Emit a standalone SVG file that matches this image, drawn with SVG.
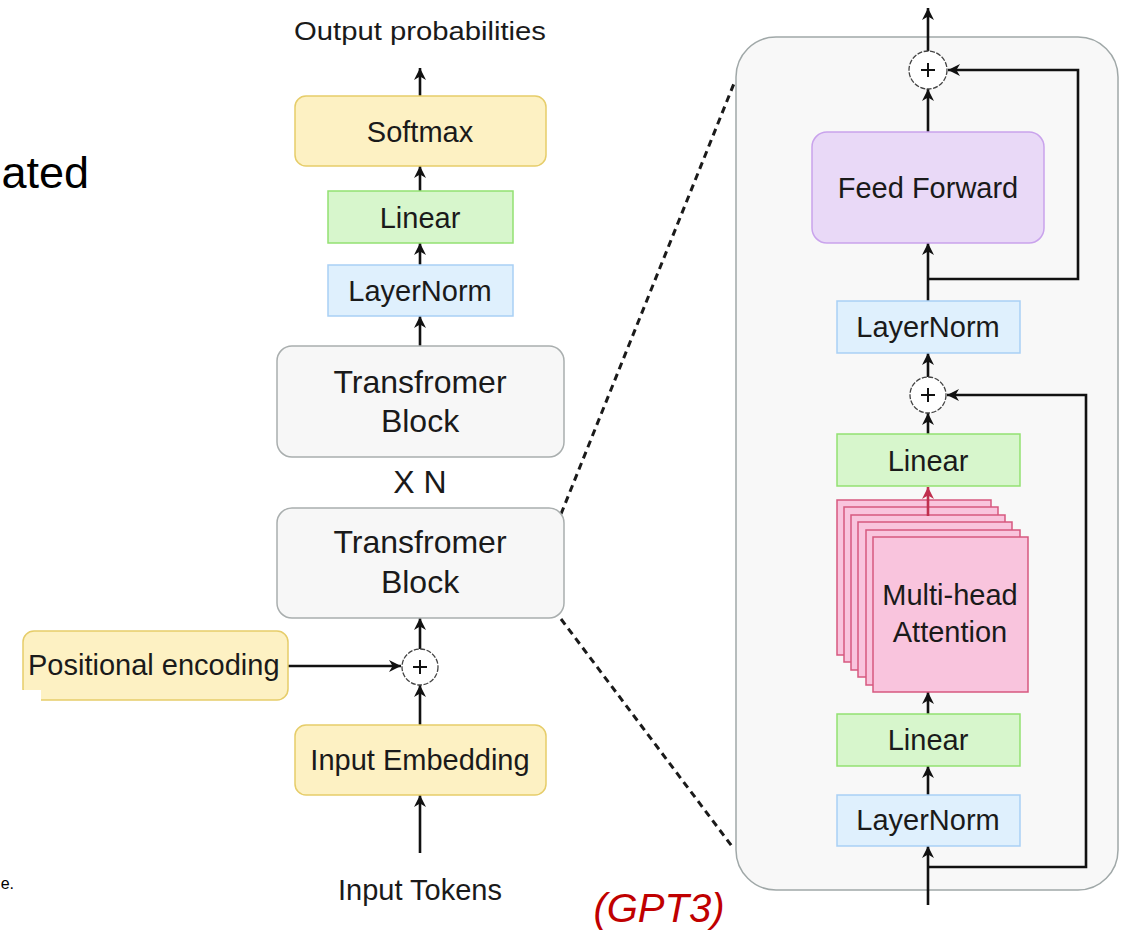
<svg xmlns="http://www.w3.org/2000/svg" width="1122" height="933" viewBox="0 0 1122 933">
<defs>
<style>
text{font-family:"Liberation Sans",Arial,sans-serif;fill:#1a1a1a}
.lbl{font-size:29px;text-anchor:middle}
.big{font-size:32px;text-anchor:middle}
.conn{stroke:#111;stroke-width:2.6;fill:none}
.dash{stroke:#1a1a1a;stroke-width:3;fill:none;stroke-dasharray:7 5}
.yellow{fill:#fdf1c3;stroke:#e6cd6a;stroke-width:1.5}
.green{fill:#d7f6cc;stroke:#93e172;stroke-width:1.5}
.blue{fill:#dff0fd;stroke:#a9d0f5;stroke-width:1.5}
.purple{fill:#e9d9f7;stroke:#c9a3ec;stroke-width:1.5}
.gray{fill:#f7f7f7;stroke:#a9aeae;stroke-width:1.5}
.pink{fill:#f9c4dd;stroke:#d6587f;stroke-width:1.5}
.plus{fill:#fff;stroke:#444;stroke-width:1.3;stroke-dasharray:5 1.5}
.pl{stroke:#111;stroke-width:2;fill:none}
</style>
<marker id="arr" viewBox="0 0 10 10" refX="10" refY="5" markerWidth="12" markerHeight="12" markerUnits="userSpaceOnUse" orient="auto">
<path d="M0,0 L10,5 L0,10 L3,5 z" fill="#111"/>
</marker>
<marker id="arrRed" viewBox="0 0 10 10" refX="10" refY="5" markerWidth="12" markerHeight="12" markerUnits="userSpaceOnUse" orient="auto">
<path d="M0,0 L10,5 L0,10 L3,5 z" fill="#c0304f"/>
</marker>
</defs>
<rect width="1122" height="933" fill="#fff"/>

<!-- cropped context texts -->
<text x="89" y="188" style="font-size:45px;text-anchor:end;fill:#000">ated</text>
<text x="14" y="889" style="font-size:16px;text-anchor:end;fill:#000">e.</text>

<!-- right panel background -->
<g id="detail-panel">
<rect x="736" y="37" width="382" height="853" rx="40" ry="40" fill="#f8f8f8" stroke="#a0a8a8" stroke-width="1.5"/>
</g>

<g id="connectors">
<!-- zoom dashed lines -->
<line class="dash" x1="561" y1="514" x2="735" y2="81"/>
<line class="dash" x1="561" y1="619" x2="734" y2="849"/>
<!-- left column -->
<line class="conn" x1="420" y1="96" x2="420" y2="68" marker-end="url(#arr)"/>
<line class="conn" x1="420" y1="191" x2="420" y2="166" marker-end="url(#arr)"/>
<line class="conn" x1="420" y1="265" x2="420" y2="243" marker-end="url(#arr)"/>
<line class="conn" x1="420" y1="346" x2="420" y2="316" marker-end="url(#arr)"/>
<line class="conn" x1="420" y1="649" x2="420" y2="618" marker-end="url(#arr)"/>
<line class="conn" x1="420" y1="725" x2="420" y2="685" marker-end="url(#arr)"/>
<line class="conn" x1="420" y1="853" x2="420" y2="795" marker-end="url(#arr)"/>
<line class="conn" x1="288" y1="666" x2="401" y2="666" marker-end="url(#arr)"/>
<!-- right column -->
<line class="conn" x1="928" y1="51" x2="928" y2="8" marker-end="url(#arr)"/>
<path class="conn" d="M928,279 H1078 V70 H948" marker-end="url(#arr)"/>
<line class="conn" x1="928" y1="132" x2="928" y2="89" marker-end="url(#arr)"/>
<line class="conn" x1="928" y1="301" x2="928" y2="243" marker-end="url(#arr)"/>
<line class="conn" x1="928" y1="377" x2="928" y2="353" marker-end="url(#arr)"/>
<line class="conn" x1="928" y1="434" x2="928" y2="413" marker-end="url(#arr)"/>
<line class="conn" x1="928" y1="714" x2="928" y2="692" marker-end="url(#arr)"/>
<line class="conn" x1="928" y1="795" x2="928" y2="766" marker-end="url(#arr)"/>
<line class="conn" x1="928" y1="905" x2="928" y2="846" marker-end="url(#arr)"/>
<path class="conn" d="M928,867 H1086 V395 H947" marker-end="url(#arr)"/>
</g>

<!-- left column nodes -->
<g id="output-probabilities"><text x="420" y="40" style="font-size:26px;text-anchor:middle" textLength="252" lengthAdjust="spacingAndGlyphs">Output probabilities</text></g>
<g id="softmax"><rect class="yellow" x="295" y="96" width="251" height="70" rx="11"/><text class="lbl" x="420" y="142">Softmax</text></g>
<g id="linear-out"><rect class="green" x="328" y="191" width="185" height="52"/><text class="lbl" x="420" y="228">Linear</text></g>
<g id="layernorm-out"><rect class="blue" x="328" y="265" width="185" height="51"/><text class="lbl" x="420" y="301">LayerNorm</text></g>
<g id="transformer-block-n"><rect class="gray" x="277" y="346" width="287" height="111" rx="15"/><text class="big" x="420" y="393">Transfromer</text><text class="big" x="420" y="432">Block</text></g>
<g id="xn"><text class="big" x="420" y="493">X N</text></g>
<g id="transformer-block-1"><rect class="gray" x="277" y="508" width="287" height="110" rx="15"/><text class="big" x="420" y="553">Transfromer</text><text class="big" x="420" y="593">Block</text></g>
<g id="add-pos"><circle class="plus" cx="420" cy="667" r="18"/><path class="pl" d="M413,667 H427 M420,660 V674"/></g>
<g id="positional-encoding"><rect class="yellow" x="23" y="631" width="265" height="69" rx="11"/><rect x="0" y="690" width="41" height="14" fill="#fff"/><text x="28" y="675" style="font-size:29px">Positional encoding</text></g>
<g id="input-embedding"><rect class="yellow" x="295" y="725" width="251" height="70" rx="11"/><text class="lbl" x="420" y="770">Input Embedding</text></g>
<g id="input-tokens"><text class="lbl" x="420" y="900">Input Tokens</text></g>

<!-- right column nodes -->
<g id="add-ffn"><circle class="plus" cx="928" cy="70" r="19"/><path class="pl" d="M921,70 H935 M928,63 V77"/></g>
<g id="feed-forward"><rect class="purple" x="812" y="132" width="232" height="111" rx="15"/><text class="lbl" x="928" y="198">Feed Forward</text></g>
<g id="layernorm-2"><rect class="blue" x="837" y="301" width="183" height="52"/><text class="lbl" x="928" y="337">LayerNorm</text></g>
<g id="add-attn"><circle class="plus" cx="928" cy="395" r="18"/><path class="pl" d="M921,395 H935 M928,388 V402"/></g>
<g id="linear-2"><rect class="green" x="837" y="434" width="183" height="52"/><text class="lbl" x="928" y="471">Linear</text></g>
<g id="multi-head-attention">
<rect class="pink" x="837" y="500" width="154" height="155"/>
<rect class="pink" x="844" y="507" width="154" height="155"/>
<rect class="pink" x="851" y="515" width="154" height="155"/>
<rect class="pink" x="858" y="522" width="154" height="155"/>
<rect class="pink" x="866" y="530" width="154" height="155"/>
<rect class="pink" x="873" y="537" width="155" height="155"/>
<line x1="928" y1="516" x2="928" y2="487" stroke="#c0304f" stroke-width="2.6" marker-end="url(#arrRed)"/>
<text class="lbl" x="950" y="605">Multi-head</text>
<text class="lbl" x="950" y="642">Attention</text>
</g>
<g id="linear-3"><rect class="green" x="837" y="714" width="183" height="52"/><text class="lbl" x="928" y="750">Linear</text></g>
<g id="layernorm-3"><rect class="blue" x="837" y="795" width="183" height="51"/><text class="lbl" x="928" y="830">LayerNorm</text></g>

<g id="gpt3-label"><text x="659" y="922" style="font-size:40px;font-style:italic;text-anchor:middle;fill:#c00000">(GPT3)</text></g>
</svg>
